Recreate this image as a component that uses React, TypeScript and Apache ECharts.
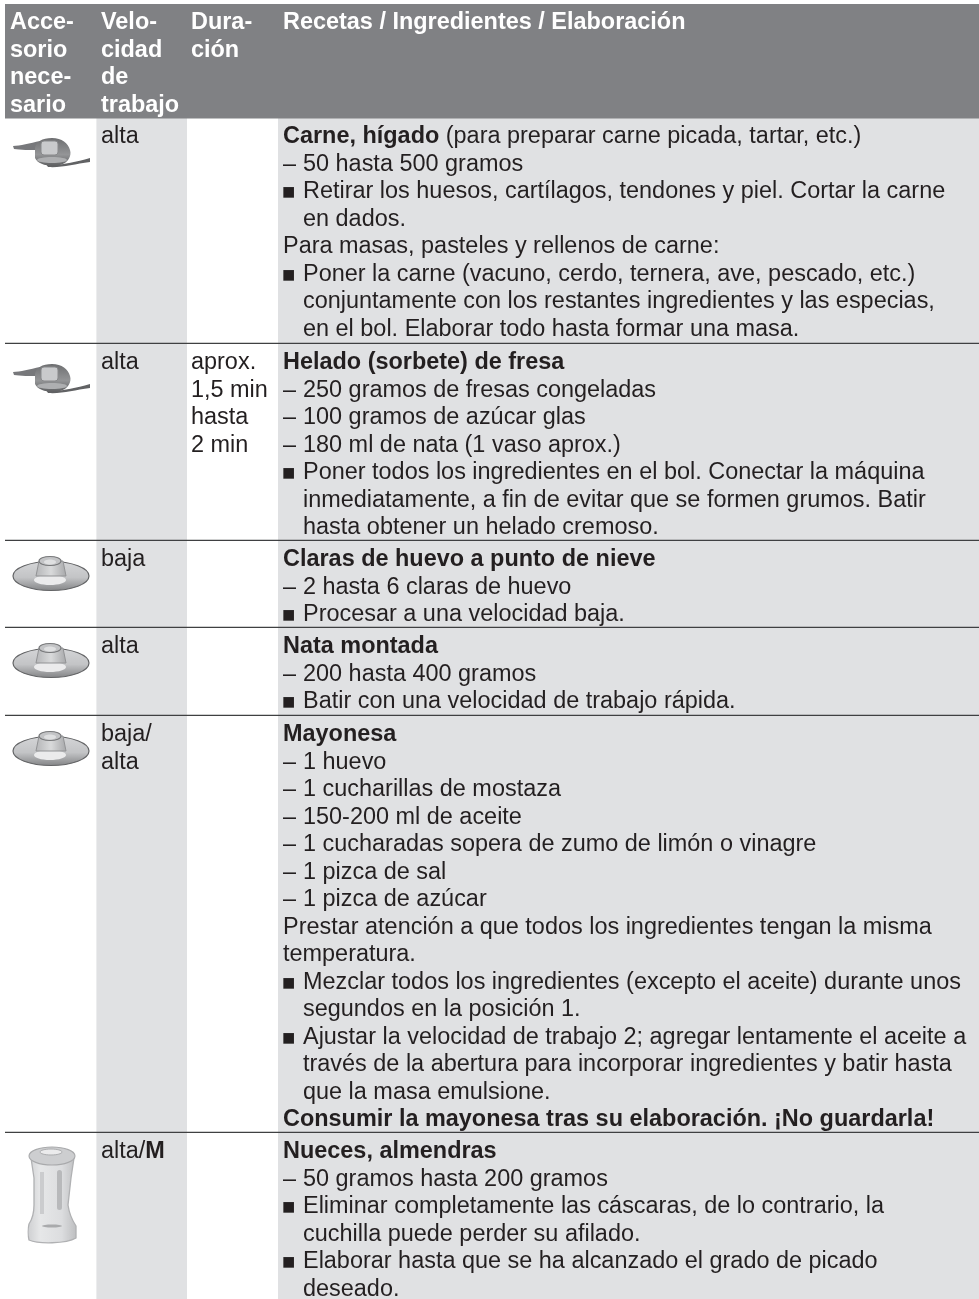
import React, { useEffect, useRef } from "react";
import * as echarts from "echarts";

const headerLabels = [
  ["Acce-", "sorio", "nece-", "sario"],
  ["Velo-", "cidad", "de", "trabajo"],
  ["Dura-", "ción"],
  ["Recetas / Ingredientes / Elaboración"],
];
const rowSpeeds = [["alta"], ["alta"], ["baja"], ["alta"], ["baja/", "alta"], ["alta/{b|M}"]];
const rowDurations = [[], ["aprox.", "1,5 min", "hasta", "2 min"], [], [], [], []];
const rowIcons = ["blade", "blade", "disc", "disc", "disc", "jar"];
const recipe1 = [
  "{b|Carne, hígado} (para preparar carne picada, tartar, etc.)",
  "– 50 hasta 500 gramos",
  "■ Retirar los huesos, cartílagos, tendones y piel. Cortar la carne",
  "  en dados.",
  "Para masas, pasteles y rellenos de carne:",
  "■ Poner la carne (vacuno, cerdo, ternera, ave, pescado, etc.)",
  "  conjuntamente con los restantes ingredientes y las especias,",
  "  en el bol. Elaborar todo hasta formar una masa.",
];
const recipe2 = [
  "{b|Helado (sorbete) de fresa}",
  "– 250 gramos de fresas congeladas",
  "– 100 gramos de azúcar glas",
  "– 180 ml de nata (1 vaso aprox.)",
  "■ Poner todos los ingredientes en el bol. Conectar la máquina",
  "  inmediatamente, a fin de evitar que se formen grumos. Batir",
  "  hasta obtener un helado cremoso.",
];
const recipe3 = [
  "{b|Claras de huevo a punto de nieve}",
  "– 2 hasta 6 claras de huevo",
  "■ Procesar a una velocidad baja.",
];
const recipe4 = [
  "{b|Nata montada}",
  "– 200 hasta 400 gramos",
  "■ Batir con una velocidad de trabajo rápida.",
];
const recipe5 = [
  "{b|Mayonesa}",
  "– 1 huevo",
  "– 1 cucharillas de mostaza",
  "– 150-200 ml de aceite",
  "– 1 cucharadas sopera de zumo de limón o vinagre",
  "– 1 pizca de sal",
  "– 1 pizca de azúcar",
  "Prestar atención a que todos los ingredientes tengan la misma",
  "temperatura.",
  "■ Mezclar todos los ingredientes (excepto el aceite) durante unos",
  "  segundos en la posición 1.",
  "■ Ajustar la velocidad de trabajo 2; agregar lentamente el aceite a",
  "  través de la abertura para incorporar ingredientes y batir hasta",
  "  que la masa emulsione.",
  "{b|Consumir la mayonesa tras su elaboración. ¡No guardarla!}",
];
const recipe6 = [
  "{b|Nueces, almendras}",
  "– 50 gramos hasta 200 gramos",
  "■ Eliminar completamente las cáscaras, de lo contrario, la",
  "  cuchilla puede perder su afilado.",
  "■ Elaborar hasta que se ha alcanzado el grado de picado",
  "  deseado.",
];
const recipes = [recipe1, recipe2, recipe3, recipe4, recipe5, recipe6];

const W = 979;
const H = 1299;
const FONT = '"Liberation Sans", Arial, sans-serif';
const FS = 23.45;
const LH = 27.5;
const INK = "#231f20";
const rowTops = [118, 344, 541, 628, 716, 1133];
const colX = [5, 96.4, 187, 278];
const textX = [10, 101, 191, 283];
const HANG_X = 303;

echarts.graphic.registerShape(
  "bladeLeft",
  echarts.graphic.extendPath("M13 146 C20 146 30 143 40 141 L40 150 C30 150 20 150 14 149 Z", {})
);
echarts.graphic.registerShape(
  "bladeRight",
  echarts.graphic.extendPath("M46 164 C58 166 72 163 90 158 L90 162 C74 164 62 168 48 167 Z", {})
);
echarts.graphic.registerShape(
  "bladeHub",
  echarts.graphic.extendPath("M35 148 C36 142 42 138 52 138 C62 138 68 143 70 150 C72 156 68 163 60 165 C50 167 38 165 35 158 Z", {})
);
echarts.graphic.registerShape(
  "jarBody",
  echarts.graphic.extendPath(
    "M31 1158 L34 1178 L34 1205 C34 1212 33 1218 29 1224 C28 1228 28 1236 29 1240 C38 1244 66 1244 76 1238 L76 1226 C72 1220 69 1212 68 1205 L71 1178 L74 1158 Z",
    {}
  )
);

function textEl(text: string, x: number, cy: number, fill: string, bold = false, size = FS) {
  return {
    type: "text",
    x,
    y: cy,
    silent: true,
    style: {
      text,
      fill,
      font: `${bold ? "bold " : ""}${size}px ${FONT}`,
      verticalAlign: "middle",
      align: "left",
      rich: { b: { fill, font: `bold ${size}px ${FONT}` } },
    },
  };
}

function recipeLine(t: string, cy: number) {
  if (t.startsWith("■ ")) {
    return [textEl("■", 282, cy + 1.5, INK, false, 22), textEl(t.slice(2), HANG_X, cy, INK)];
  }
  if (t.startsWith("– ")) {
    return [textEl("–", textX[3], cy, INK), textEl(t.slice(2), HANG_X, cy, INK)];
  }
  if (t.startsWith("  ")) return [textEl(t.slice(2), HANG_X, cy, INK)];
  return [textEl(t, textX[3], cy, INK)];
}

function bladeIcon(top: number) {
  const dy = top - 118;
  const hubFill = new echarts.graphic.LinearGradient(0, 0, 0, 1, [
    { offset: 0, color: "#6e6f71" },
    { offset: 0.6, color: "#949597" },
    { offset: 1, color: "#5f6062" },
  ]);
  return [
    { type: "bladeLeft", y: dy, style: { fill: "#77787b" } },
    { type: "bladeRight", y: dy, style: { fill: "#616264" } },
    { type: "bladeHub", y: dy, style: { fill: hubFill } },
    { type: "rect", shape: { x: 41, y: 141 + dy, width: 17, height: 14, r: 3 }, style: { fill: "#c9cacc", stroke: "#88898b", lineWidth: 1 } },
    { type: "ellipse", shape: { cx: 52, cy: 160 + dy, rx: 15, ry: 3 }, style: { fill: "#aeafb1" } },
  ];
}

function discIcon(top: number) {
  const cy = top + 35;
  const x = 51;
  const grad = new echarts.graphic.LinearGradient(0, 0, 0, 1, [
    { offset: 0, color: "#d4d5d7" },
    { offset: 0.55, color: "#c3c4c6" },
    { offset: 1, color: "#858688" },
  ]);
  const hub = new echarts.graphic.LinearGradient(0, 0, 1, 0, [
    { offset: 0, color: "#b5b6b8" },
    { offset: 0.5, color: "#d9dadb" },
    { offset: 1, color: "#a8a9ab" },
  ]);
  return [
    { type: "ellipse", shape: { cx: x, cy, rx: 38, ry: 14.5 }, style: { fill: grad, stroke: "#636466", lineWidth: 1.2 } },
    { type: "ellipse", shape: { cx: x - 1, cy: cy + 4, rx: 16, ry: 5 }, style: { fill: "#ebebec" } },
    { type: "polygon", shape: { points: [[x - 12, cy - 15], [x + 12, cy - 15], [x + 15, cy], [x - 15, cy]] }, style: { fill: hub, stroke: "#929395", lineWidth: 1 } },
    { type: "ellipse", shape: { cx: x - 1, cy: cy - 15, rx: 11, ry: 4.5 }, style: { fill: "#c3c4c6", stroke: "#77787a", lineWidth: 1.1 } },
    { type: "ellipse", shape: { cx: x - 1, cy: cy - 14, rx: 6, ry: 2.5 }, style: { fill: "#dfe0e1" } },
  ];
}

function jarIcon() {
  const fill = new echarts.graphic.LinearGradient(0, 0, 1, 0, [
    { offset: 0, color: "#cfd0d2" },
    { offset: 0.25, color: "#e6e7e8" },
    { offset: 0.7, color: "#dcdddf" },
    { offset: 1, color: "#bebfc1" },
  ]);
  return [
    { type: "jarBody", style: { fill, stroke: "#b0b1b3", lineWidth: 1.3 } },
    { type: "ellipse", shape: { cx: 52, cy: 1156, rx: 23, ry: 9 }, style: { fill: "#cdced0", stroke: "#a9aaac", lineWidth: 1.1 } },
    { type: "ellipse", shape: { cx: 51, cy: 1152, rx: 11, ry: 3 }, style: { fill: "#ebebec", stroke: "#acadaf", lineWidth: 1 } },
    { type: "rect", shape: { x: 57, y: 1170, width: 5, height: 40, r: 2.5 }, style: { fill: "#b8b9bb" } },
    { type: "rect", shape: { x: 40, y: 1172, width: 4, height: 42 }, style: { fill: "#cbccce" } },
    { type: "ellipse", shape: { cx: 52, cy: 1226, rx: 10, ry: 1.5 }, style: { fill: "#a9aaac" } },
  ];
}

function buildElements() {
  const els: any[] = [];
  els.push({ type: "rect", shape: { x: colX[1], y: 118, width: colX[2] - colX[1], height: H - 118 }, style: { fill: "#e0e1e3" } });
  els.push({ type: "rect", shape: { x: colX[3], y: 118, width: W - colX[3], height: H - 118 }, style: { fill: "#e0e1e3" } });
  els.push({ type: "rect", shape: { x: 5, y: 4, width: W - 5, height: 114.5 }, style: { fill: "#808184" } });
  headerLabels.forEach((lines, c) =>
    lines.forEach((t, i) => els.push(textEl(t, textX[c], 21 + i * LH, "#ffffff", true)))
  );
  rowTops.forEach((top, r) => {
    if (r > 0) els.push({ type: "line", shape: { x1: 5, y1: top - 0.6, x2: W, y2: top - 0.6 }, style: { stroke: "#3f4042", lineWidth: 1.3 } });
    const cy0 = top + 17;
    rowSpeeds[r].forEach((t, i) => els.push(textEl(t, textX[1], cy0 + i * LH, INK)));
    rowDurations[r].forEach((t, i) => els.push(textEl(t, textX[2], cy0 + i * LH, INK)));
    recipes[r].forEach((t, i) => els.push(...recipeLine(t, cy0 + i * LH)));
    const kind = rowIcons[r];
    if (kind === "blade") els.push(...bladeIcon(top));
    if (kind === "disc") els.push(...discIcon(top));
    if (kind === "jar") els.push(...jarIcon());
  });
  return els;
}

export default function App() {
  const ref = useRef<HTMLDivElement>(null);
  useEffect(() => {
    document.body.style.margin = "0";
    const chart = echarts.init(ref.current!, null, { renderer: "svg", width: W, height: H });
    chart.setOption({ animation: false, backgroundColor: "#ffffff", graphic: { elements: buildElements() } });
    return () => chart.dispose();
  }, []);
  return <div ref={ref} style={{ width: W, height: H, filter: "blur(0.35px)" }} />;
}
